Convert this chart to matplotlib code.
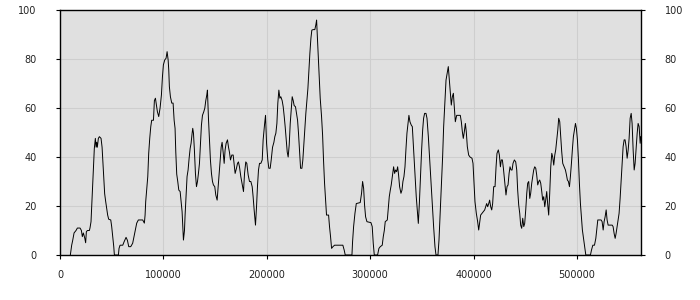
import numpy as np
import matplotlib
matplotlib.use("Agg")
import matplotlib.pyplot as plt

# posiciones (en miles) y valores
pos_k = [
    10.0, 11.3, 12.3, 13.6, 15.5, 16.8, 19.4, 20.7, 21.6, 22.6, 23.9, 24.8, 25.5, 26.5, 28.4, 29.0,
    30.0, 30.7, 31.6, 32.6, 33.2, 34.2, 34.9, 35.5, 36.1, 37.1, 38.1, 39.7, 40.7, 41.3, 42.3, 43.2,
    44.2, 45.2, 46.1, 47.1, 49.1, 50.0, 51.0, 52.0, 52.6, 56.5, 57.1, 58.1, 60.7, 62.0, 63.9, 65.2,
    66.5, 68.4, 70.3, 71.6, 72.9, 74.2, 75.8, 80.0, 81.6, 82.3, 82.9, 83.9, 84.9, 85.8, 86.8, 87.8,
    88.7, 90.4, 91.3, 92.3, 93.3, 94.2, 95.5, 96.8, 98.1, 99.1, 100.0, 101.3, 102.6, 103.6, 104.6,
    105.2, 105.8, 106.8, 108.1, 109.4, 110.4, 111.3, 112.0, 112.9, 113.9, 114.9, 116.2, 117.1, 118.1,
    118.8, 119.4, 120.4, 121.0, 122.0, 122.9, 123.9, 124.9, 125.9, 126.8, 127.8, 128.4, 129.1, 130.0,
    131.0, 132.0, 133.0, 133.9, 134.9, 135.9, 136.8, 137.8, 139.1, 140.1, 141.0, 142.0, 142.6, 143.6,
    144.6, 145.5, 146.5, 147.5, 148.4, 149.7, 150.7, 152.0, 153.0, 153.9, 154.9, 155.9, 156.8, 157.8,
    158.8, 159.7, 160.7, 162.0, 163.0, 163.9, 164.9, 166.2, 167.5, 168.4, 169.4, 170.7, 171.7,
    172.6, 173.6, 174.9, 176.2, 177.5, 178.5, 179.7, 180.7, 182.0, 183.3, 184.6, 185.9, 186.8, 187.8,
    189.1, 190.1, 191.0, 192.0, 193.0, 194.3, 195.6, 196.5, 197.8, 198.8, 199.8, 201.0, 202.0, 203.3,
    204.3, 205.6, 206.9, 207.8, 208.8, 209.8, 210.7, 211.7, 212.7, 213.6, 214.9, 215.9, 216.9, 217.8,
    218.8, 219.8, 220.7, 221.7, 222.7, 223.6, 224.6, 225.6, 226.5, 227.8, 228.8, 229.8, 230.7, 231.7,
    232.7, 234.0, 234.9, 235.9, 236.9, 237.8, 238.8, 239.8, 240.7, 241.7, 242.7, 243.6, 244.9, 246.5,
    247.5, 248.2, 248.8, 249.8, 250.7, 251.7, 253.0, 254.0, 254.9, 255.9, 256.9, 257.8, 259.8, 260.7,
    261.7, 262.7, 264.0, 265.6, 273.6, 274.9, 275.9, 282.4, 283.0, 284.0, 285.3, 286.6, 290.4, 291.7,
    292.7, 293.7, 294.6, 295.6, 296.9, 300.8, 302.0, 303.0, 304.0, 307.2, 308.5, 309.8, 311.7, 312.7,
    313.7, 314.6, 316.6, 317.5, 318.5, 319.5, 320.4, 321.7, 322.7, 323.7, 324.6, 325.6, 326.6, 327.5,
    328.5, 329.8, 330.8, 331.7, 332.7, 333.7, 334.6, 335.6, 336.6, 337.5, 338.5, 339.8, 340.8, 341.7,
    342.7, 343.7, 344.6, 345.6, 346.6, 347.6, 348.5, 349.8, 350.8, 351.7, 352.7, 354.0, 355.0, 356.3,
    357.6, 358.8, 360.1, 361.4, 362.7, 363.7, 365.6, 366.6, 367.9, 369.2, 370.1, 371.1, 372.4, 373.4,
    374.7, 375.6, 376.6, 377.6, 378.5, 379.5, 380.5, 381.4, 382.4, 383.7, 384.7,
    387.2, 388.2, 389.2, 390.1, 391.1, 392.1, 393.0, 394.0, 395.3, 396.6, 398.5, 399.5, 400.5, 401.4,
    402.7, 404.0, 405.0, 406.0, 406.9, 408.2, 409.5, 410.8, 411.8, 412.7, 413.7, 414.7, 415.6, 416.6,
    417.6, 418.5, 419.5, 420.8, 421.8, 422.7, 424.0, 425.0, 426.0, 426.9, 427.9, 428.9, 430.1, 431.4,
    432.4, 433.4, 434.4, 435.3, 436.3, 437.3, 438.2, 439.5, 440.8, 441.8, 442.7, 443.7, 444.7, 445.6,
    446.6, 447.6, 448.6, 449.5, 450.5, 451.5, 452.4, 453.4, 454.4, 455.3, 456.3, 457.3, 458.2, 459.2,
    460.2, 461.1, 462.1, 463.1, 464.0, 465.0, 466.0, 466.9, 467.9, 468.9, 469.8, 470.8, 471.8, 472.7,
    473.7, 474.7, 475.7, 476.6, 477.6, 478.6, 479.5, 480.5, 481.5, 482.4, 483.4, 484.4, 485.3, 486.3,
    487.6, 488.9, 489.9, 490.8, 491.8, 492.8, 493.7, 494.7, 495.7, 496.6, 497.6, 498.6, 499.5, 500.5,
    501.5, 502.4, 503.4, 504.4, 505.3, 506.6, 507.6, 508.6, 513.1, 514.1, 515.4, 517.0, 518.3, 519.2,
    520.2, 523.4, 524.4, 525.4, 526.3, 527.3, 528.3, 529.2, 530.2, 534.1, 535.0, 536.0, 537.0, 537.9,
    538.9, 539.9, 540.8, 541.8, 542.8, 543.7, 544.7, 545.7, 546.6, 547.6, 548.6, 549.6, 550.5, 551.5,
    552.5, 553.4, 554.4, 555.4, 556.3, 557.3, 558.3, 559.2, 560.2, 561.2, 561.8,
]
valores = [
    0, 4, 6, 9, 10, 11, 11, 10, 7.5, 9, 7, 5, 9.5, 10, 10, 11,
    13.6, 20, 28.6, 36.7, 43.5, 47.6, 44, 46, 44, 47.6, 48.3, 47.6, 44, 39.5, 32.7, 25,
    21.8, 19, 16.3, 14.6, 14.3, 11.6, 7.5, 3.4, 0, 0, 2.7, 4, 4, 5.4, 7.2, 6,
    3.4, 3.4, 4.8, 7.5, 10, 13, 14.3, 14.3, 13, 16.3, 21.8, 27, 32, 41.5, 47.6, 52.4,
    55, 55, 63, 64, 61, 58.5, 56.5, 60, 65.3, 72.8, 77.6, 79.6, 80.3, 83, 79.6,
    75.5, 68.7, 64.6, 62, 62, 55, 51.7, 42, 33, 30, 26.5, 25.9, 21.8, 17.7,
    10.9, 6.1, 10, 16.3, 24.5, 32, 34.7, 39.5, 43.5, 45.6, 49.7, 51.7, 49.7, 42.9,
    33.3, 27.9, 30, 33.3, 37.4, 45.6, 53, 57, 58.5, 60, 63, 65.3, 67.3, 55.8,
    47, 38.8, 33.3, 30, 28.6, 27.9, 24.5, 22.4, 27.9, 33.3, 38.8, 44, 46, 42,
    37.4, 42.9, 45.6, 47, 44, 42, 38.8, 40.8, 40.8, 37.4, 33.3, 35.4, 37.4,
    38, 36, 32, 29, 25.9, 33.3, 38, 37.4, 32.7, 30, 30, 27.9, 23.8, 18.4,
    12.2, 19.7, 27.9, 34.7, 37.4, 37.4, 38.8, 47, 53, 57, 45.6, 38.8, 35.4, 35.4,
    38.8, 44, 46, 48.3, 49.7, 53.7, 62, 67.3, 64, 64.6, 63, 60.5, 56.5, 52.4,
    47, 42, 40, 44.9, 53.7, 59, 64.6, 63, 61, 60.5, 57.8, 55, 49.7, 42.9,
    35.4, 35.4, 38.8, 45.6, 52.4, 57.8, 63, 68, 74.8, 82.3, 88.4, 91.8, 92, 92,
    94, 95.9, 90.5, 82.3, 73.5, 64, 56.5, 49, 38.8, 29.3, 22.4, 16.3, 16.3, 11.6,
    7.5, 2.7, 3.4, 4, 4, 2, 0, 0, 5.4, 11.6, 17, 21, 21.4, 25.2,
    30, 27.2, 20.4, 15.6, 13.6, 13.2, 11.6, 4.8, 0, 0, 2.7, 3.4, 4, 7.5,
    10, 13.6, 14.3, 19, 23.8, 26.5, 28.6, 32.7, 36, 33.3, 34.7, 34, 36, 32.7,
    27.9, 25.2, 26.5, 30, 32, 36, 42.9, 49.7, 53.7, 57, 54.4, 53, 52.4, 45.6,
    37.4, 30, 23.8, 18.4, 12.9, 21, 30, 42.9, 51, 55.8, 57.8, 57.8, 55.8, 48.3,
    38.8, 29.3, 21, 11.6, 3.4, 0, 0, 6.1, 18.4, 30.6, 40, 52.4, 63, 71.4,
    74.8, 76.9, 71.4, 66, 61.2, 64.6, 66, 60.5, 54.4, 57, 57,
    57, 54.4, 50.3, 47.6, 50.3, 53.7, 50.3, 44.2, 40.8, 40, 39.5, 37.4, 29.3, 21.8,
    17, 13.6, 10.2, 13.6, 16.3, 17, 17.7, 18.4, 19.7, 21, 19.7, 21, 22.4, 19.7,
    18.4, 21, 27.9, 27.9, 36, 41.5, 42.9, 40.8, 36, 38.8, 38.8, 35.4, 30, 24.5,
    27.9, 28.6, 33.3, 36, 34.7, 34.7, 37.4, 38.8, 38, 34.7, 26.5, 20.4, 17, 12.2,
    10.9, 15, 11.6, 12.9, 18.4, 25.2, 29.3, 30, 23.1, 25.2, 29.3, 32, 34.7, 36,
    35.4, 32.7, 28.6, 30, 30.6, 29.3, 25.9, 22.4, 23.8, 19.7, 22.4, 25.9, 20.4, 16.3,
    25.2, 36, 41.5, 40, 36.7, 40.8, 42.9, 47, 51, 55.8, 54.4, 48.3, 42.2, 37.4,
    36, 34.7, 32.7, 30.6, 30, 27.9, 32, 37.4, 43.5, 48.3, 51, 53.7, 51.7, 47,
    38.8, 29.3, 21, 15.6, 10.2, 6.1, 2.7, 0, 0, 2, 4, 4, 6.8, 10.2,
    14.3, 14.3, 13.6, 10.2, 13.6, 15.6, 18.4, 14.3, 12.2, 12.2, 11.6, 8.8, 6.8, 8.8,
    11.6, 14.3, 17, 23.1, 30.6, 38.1, 44.2, 47, 47, 44.2, 39.5, 42.9, 47.6, 55.8,
    57.8, 53.7, 42.9, 34.7, 37.4, 43.5, 49.7, 53.7, 52.4, 45.6, 48.3,
]

x_ticks = [0, 100000, 200000, 300000, 400000, 500000]
y_ticks = [0, 20, 40, 60, 80, 100]

x = np.array(pos_k) * 1000
y = np.array(valores)

fig = plt.figure(figsize=(7, 3), dpi=100)
ax = fig.add_axes([60/700, 45/300, 581/700, 245/300])
ax.set_facecolor('#e0e0e0')
ax.plot(x, y, color='black', linewidth=0.7)

ax.set_xlim(0, 562000)
ax.set_ylim(0, 100)
ax.set_xticks(x_ticks)
ax.set_xticklabels([str(t) for t in x_ticks])
ax.set_yticks(y_ticks)
ax.grid(True, color='#cecece', linewidth=0.8)
ax.set_axisbelow(True)

for s in ax.spines.values():
    s.set_color('black')
    s.set_linewidth(1.0)

ax.tick_params(axis='x', direction='out', length=3, width=0.8, pad=8, labelsize=7, colors='black', labelcolor='#222222')
ax.tick_params(axis='y', direction='out', length=3, width=0.8, pad=14, labelsize=7, colors='black', labelcolor='#222222',
               left=True, right=True, labelleft=True, labelright=True)

fig.savefig('out.png', dpi=100)
